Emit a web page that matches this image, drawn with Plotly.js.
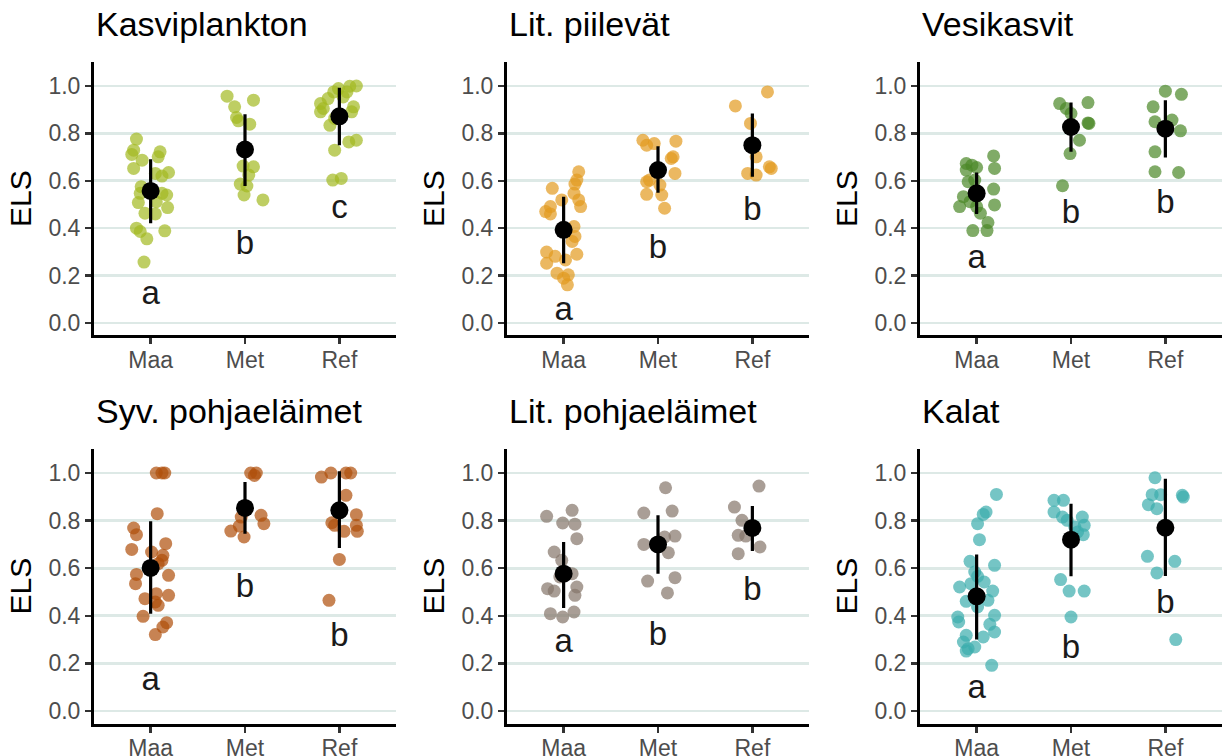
<!DOCTYPE html>
<html>
<head>
<meta charset="utf-8">
<script src="https://cdn.plot.ly/plotly-3.0.1.min.js"></script>
<style>
  html, body { margin: 0; padding: 0; background: #fff; }
  #chart { width: 1224px; height: 756px; }
</style>
</head>
<body>
<div id="chart"></div>
<script>
// Site groups on the x axis
const groups = ["Maa", "Met", "Ref"];
const yTicks = [0, 0.2, 0.4, 0.6, 0.8, 1.0];
const yTickText = ["0.0", "0.2", "0.4", "0.6", "0.8", "1.0"];

const panelTitles = ["Kasviplankton", "Lit. piilevät", "Vesikasvit",
                     "Syv. pohjaeläimet", "Lit. pohjaeläimet", "Kalat"];

// ---- Kasviplankton ----
const kasviMaa = [0.776, 0.729, 0.711, 0.722, 0.701, 0.687, 0.652, 0.635, 0.62, 0.631, 0.575, 0.547,
                  0.54, 0.547, 0.508, 0.512, 0.487, 0.463, 0.46, 0.40, 0.386, 0.355, 0.389, 0.257];
const kasviMaaJit = [-0.15, -0.18, -0.2, 0.1, 0.08, -0.09, -0.18, 0.19, 0.12, 0.05, -0.1, -0.11,
                     0.17, 0.12, -0.13, 0.06, 0.18, -0.06, 0.05, -0.15, -0.11, -0.04, 0.15, -0.07];
const kasviMet = [0.957, 0.94, 0.912, 0.867, 0.853, 0.839, 0.662, 0.659, 0.624, 0.586, 0.578, 0.54, 0.519];
const kasviMetJit = [-0.19, 0.09, -0.11, -0.09, -0.07, 0.05, -0.02, 0.09, 0.04, -0.05, 0.02, -0.01, 0.19];
const kasviRef = [0.999, 1.0, 0.989, 0.975, 0.975, 0.947, 0.954, 0.926, 0.905, 0.891, 0.912, 0.891,
                  0.834, 0.863, 0.764, 0.771, 0.729, 0.603, 0.61];
const kasviRefJit = [0.11, 0.18, -0.01, -0.06, 0.08, -0.12, 0.04, -0.2, -0.17, -0.2, 0.15, 0.13,
                     -0.1, -0.05, 0.1, 0.18, -0.05, -0.07, 0.02];
const kasviMean = [0.557, 0.732, 0.872];
const kasviLo = [0.421, 0.578, 0.75];
const kasviHi = [0.691, 0.881, 0.993];
const kasviLetters = ["a", "b", "c"];
const kasviLetterY = [0.114, 0.325, 0.479];

// ---- Lit. piilevät ----
const piileMaa = [0.568, 0.638, 0.603, 0.586, 0.547, 0.519, 0.491, 0.519, 0.491, 0.47, 0.46, 0.407,
                  0.365, 0.344, 0.299, 0.281, 0.29, 0.266, 0.252, 0.21, 0.189, 0.203, 0.161];
const piileMaaJit = [-0.12, 0.16, 0.14, 0.12, 0.11, 0.16, 0.18, -0.02, -0.14, -0.19, -0.14, 0.11,
                     0.12, 0.09, -0.18, -0.09, 0.14, 0.02, -0.18, -0.07, 0, 0.05, 0.04];
const piileMet = [0.771, 0.75, 0.757, 0.767, 0.701, 0.694, 0.631, 0.603, 0.596, 0.582, 0.54, 0.543, 0.484];
const piileMetJit = [-0.16, -0.12, -0.04, 0.19, 0.16, 0.14, 0.18, -0.09, -0.12, 0.02, 0.04, -0.12, 0.07];
const piileRef = [0.975, 0.916, 0.842, 0.701, 0.631, 0.624, 0.659, 0.652];
const piileRefJit = [0.16, -0.18, -0.02, 0.04, -0.05, 0.04, 0.18, 0.2];
const piileMean = [0.393, 0.645, 0.75];
const piileLo = [0.252, 0.55, 0.617];
const piileHi = [0.533, 0.746, 0.884];
const piileLetters = ["a", "b", "b"];
const piileLetterY = [0.048, 0.308, 0.47];

// ---- Vesikasvit ----
const vesiMaa = [0.673, 0.666, 0.656, 0.645, 0.705, 0.652, 0.596, 0.603, 0.565, 0.491, 0.533, 0.512,
                 0.491, 0.463, 0.498, 0.424, 0.39, 0.39];
const vesiMaaJit = [-0.11, -0.05, 0, -0.11, 0.18, 0.19, -0.09, -0.02, 0.18, -0.18, -0.14, -0.07,
                    0, 0.04, 0.19, 0.12, 0.11, -0.04];
const vesiMet = [0.926, 0.905, 0.884, 0.93, 0.844, 0.842, 0.771, 0.715, 0.579];
const vesiMetJit = [-0.12, -0.05, 0, 0.18, 0.18, 0.19, 0.09, -0.01, -0.09];
const vesiRef = [0.978, 0.965, 0.912, 0.849, 0.856, 0.811, 0.722, 0.638, 0.635];
const vesiRefJit = [0, 0.17, -0.13, -0.11, 0.07, 0.16, -0.11, -0.11, 0.14];
const vesiMean = [0.547, 0.827, 0.82];
const vesiLo = [0.46, 0.722, 0.698];
const vesiHi = [0.635, 0.93, 0.94];
const vesiLetters = ["a", "b", "b"];
const vesiLetterY = [0.266, 0.456, 0.498];

// ---- Syv. pohjaeläimet ----
const syvMaa = [1.0, 1.0, 1.0, 0.829, 0.769, 0.741, 0.679, 0.668, 0.703, 0.654, 0.633, 0.619,
                0.574, 0.535, 0.57, 0.493, 0.472, 0.486, 0.444, 0.458, 0.398, 0.371, 0.353, 0.321];
const syvMaaJit = [0.06, 0.15, 0.12, 0.07, -0.18, -0.15, -0.2, 0.01, 0.16, 0.13, 0.12, 0.08,
                   -0.15, -0.16, 0.19, 0.06, -0.06, 0.19, 0.08, 0.05, -0.08, 0.17, 0.13, 0.05];
const syvMet = [1.0, 1.0, 0.99, 0.815, 0.822, 0.787, 0.777, 0.756, 0.731];
const syvMetJit = [0.06, 0.12, 0.1, -0.04, 0.17, 0.2, -0.06, -0.15, -0.01];
const syvRef = [0.983, 1.0, 1.0, 1.0, 0.906, 0.825, 0.791, 0.78, 0.78, 0.755, 0.755, 0.637, 0.465];
const syvRefJit = [-0.19, -0.09, 0.07, 0.12, 0.07, 0.18, -0.08, -0.05, 0.18, 0.05, 0.19, 0, -0.11];
const syvMean = [0.601, 0.853, 0.843];
const syvLo = [0.409, 0.745, 0.685];
const syvHi = [0.797, 0.962, 1.007];
const syvLetters = ["a", "b", "b"];
const syvLetterY = [0.123, 0.515, 0.308];

// ---- Lit. pohjaeläimet ----
const litMaa = [0.818, 0.843, 0.79, 0.785, 0.724, 0.668, 0.633, 0.563, 0.577, 0.514, 0.504, 0.521,
                0.486, 0.409, 0.395, 0.416];
const litMaaJit = [-0.18, 0.09, -0.01, 0.12, 0.14, -0.1, -0.02, -0.04, 0.09, -0.17, -0.1, 0.14,
                   0.12, -0.14, -0.01, 0.11];
const litMet = [0.938, 0.832, 0.84, 0.731, 0.735, 0.7, 0.665, 0.546, 0.56, 0.496];
const litMetJit = [0.08, -0.15, 0.15, 0.07, 0.18, -0.15, 0.11, -0.11, 0.18, 0.1];
const litRef = [0.945, 0.857, 0.801, 0.738, 0.735, 0.689, 0.661];
const litRefJit = [0.07, -0.19, -0.11, -0.15, -0.07, 0.08, -0.15];
const litMean = [0.577, 0.70, 0.769];
const litLo = [0.433, 0.577, 0.672];
const litHi = [0.71, 0.822, 0.861];
const litLetters = ["a", "b", "b"];
const litLetterY = [0.284, 0.312, 0.501];

// ---- Kalat ----
const kalaMaa = [0.91, 0.836, 0.826, 0.787, 0.72, 0.629, 0.612, 0.584, 0.566, 0.542, 0.521, 0.535,
                 0.504, 0.465, 0.461, 0.437, 0.402, 0.395, 0.374, 0.364, 0.332, 0.318, 0.311, 0.29,
                 0.269, 0.262, 0.252, 0.192];
const kalaMaaJit = [0.21, 0.1, 0.07, 0.01, 0.03, -0.07, 0.19, -0.02, 0.01, 0.08, -0.18, -0.06,
                    0.17, 0.12, -0.11, 0.01, 0.19, -0.2, -0.19, 0.14, 0.19, -0.11, 0.07, -0.14,
                    -0.02, -0.09, -0.11, 0.16];
const kalaMet = [0.885, 0.885, 0.836, 0.815, 0.801, 0.815, 0.78, 0.752, 0.741, 0.773, 0.552, 0.504, 0.504, 0.395];
const kalaMetJit = [-0.18, -0.08, -0.18, -0.09, -0.04, 0.12, 0.14, 0.07, 0.13, 0.04, -0.11, -0.02, 0.14, 0];
const kalaRef = [0.98, 0.909, 0.909, 0.867, 0.85, 0.906, 0.899, 0.65, 0.629, 0.58, 0.3];
const kalaRefJit = [-0.11, -0.14, -0.05, -0.18, -0.09, 0.18, 0.19, -0.19, 0.1, -0.09, 0.11];
const kalaMean = [0.482, 0.72, 0.77];
const kalaLo = [0.30, 0.566, 0.567];
const kalaHi = [0.658, 0.871, 0.976];
const kalaLetters = ["a", "b", "b"];
const kalaLetterY = [0.088, 0.256, 0.448];

const panelColors = ["#A2B921", "#E39A1E", "#4A8726", "#AF4F0A", "#85756A", "#3AADAD"];

const panels = [
  { pts: [kasviMaa, kasviMet, kasviRef], jit: [kasviMaaJit, kasviMetJit, kasviRefJit],
    mean: kasviMean, lo: kasviLo, hi: kasviHi, letters: kasviLetters, letterY: kasviLetterY },
  { pts: [piileMaa, piileMet, piileRef], jit: [piileMaaJit, piileMetJit, piileRefJit],
    mean: piileMean, lo: piileLo, hi: piileHi, letters: piileLetters, letterY: piileLetterY },
  { pts: [vesiMaa, vesiMet, vesiRef], jit: [vesiMaaJit, vesiMetJit, vesiRefJit],
    mean: vesiMean, lo: vesiLo, hi: vesiHi, letters: vesiLetters, letterY: vesiLetterY },
  { pts: [syvMaa, syvMet, syvRef], jit: [syvMaaJit, syvMetJit, syvRefJit],
    mean: syvMean, lo: syvLo, hi: syvHi, letters: syvLetters, letterY: syvLetterY },
  { pts: [litMaa, litMet, litRef], jit: [litMaaJit, litMetJit, litRefJit],
    mean: litMean, lo: litLo, hi: litHi, letters: litLetters, letterY: litLetterY },
  { pts: [kalaMaa, kalaMet, kalaRef], jit: [kalaMaaJit, kalaMetJit, kalaRefJit],
    mean: kalaMean, lo: kalaLo, hi: kalaHi, letters: kalaLetters, letterY: kalaLetterY }
];

// Layout geometry (pixels) for the 3 x 2 grid
const W = 1224, H = 756;
const colLeft = [94, 507, 920];
const panelW = 302;
const rowTop = [61.7, 448.6];
const rowBottom = [335.4, 723.5];
const FONT = "Liberation Sans, Arial, Helvetica, sans-serif";

const data = [];
const layout = {
  width: W, height: H,
  margin: { l: 0, r: 0, t: 0, b: 0 },
  paper_bgcolor: "#fff", plot_bgcolor: "#fff",
  showlegend: false,
  font: { family: FONT, color: "#000" },
  annotations: []
};

panels.forEach((p, i) => {
  const n = i + 1;
  const xa = "x" + (n === 1 ? "" : n);
  const ya = "y" + (n === 1 ? "" : n);
  const col = i % 3, row = Math.floor(i / 3);

  // jittered observations
  p.pts.forEach((ys, g) => {
    data.push({
      type: "scatter", mode: "markers", xaxis: xa, yaxis: ya,
      x: ys.map((_, k) => g + p.jit[g][k]), y: ys,
      marker: { size: 13, color: panelColors[i], opacity: 0.7, line: { width: 0 } },
      hoverinfo: "y", cliponaxis: false
    });
  });

  // group means with interval bars
  data.push({
    type: "scatter", mode: "markers", xaxis: xa, yaxis: ya,
    x: [0, 1, 2], y: p.mean,
    marker: { size: 18, color: "#000" },
    error_y: {
      type: "data", symmetric: false,
      array: p.hi.map((h, k) => h - p.mean[k]),
      arrayminus: p.lo.map((l, k) => p.mean[k] - l),
      thickness: 3.2, width: 0, color: "#000"
    },
    hoverinfo: "y", cliponaxis: false
  });

  // significance letters
  data.push({
    type: "scatter", mode: "text", xaxis: xa, yaxis: ya,
    x: [0, 1, 2], y: p.letterY, text: p.letters,
    textposition: "middle center",
    textfont: { family: FONT, size: 33, color: "#1a1a1a" },
    hoverinfo: "skip", cliponaxis: false
  });

  const x0 = colLeft[col] / W, x1 = (colLeft[col] + panelW) / W;
  const y1 = 1 - rowTop[row] / H, y0 = 1 - rowBottom[row] / H;

  layout["xaxis" + (n === 1 ? "" : n)] = {
    domain: [x0, x1], anchor: ya,
    range: [-0.6, 2.6], tickvals: [0, 1, 2], ticktext: groups,
    showgrid: false, zeroline: false,
    showline: true, linecolor: "#000", linewidth: 3,
    ticks: "outside", ticklen: 6, tickwidth: 2.4, tickcolor: "#333",
    ticklabelstandoff: -4,
    tickfont: { family: FONT, size: 23, color: "#4d4d4d" },
    fixedrange: true
  };
  layout["yaxis" + (n === 1 ? "" : n)] = {
    domain: [y0, y1], anchor: xa,
    range: [-0.0525, 1.1025], tickvals: yTicks, ticktext: yTickText,
    showgrid: true, gridcolor: "#DDE9E6", gridwidth: 2.6, zeroline: false,
    showline: true, linecolor: "#000", linewidth: 3,
    ticks: "outside", ticklen: 6, tickwidth: 2.4, tickcolor: "#333",
    tickfont: { family: FONT, size: 23, color: "#4d4d4d" },
    title: { text: "ELS", font: { family: FONT, size: 30, color: "#000" }, standoff: 8 },
    fixedrange: true
  };

  layout.annotations.push({
    xref: "paper", yref: "paper",
    x: x0, y: 1 - (rowTop[row] - 17) / H,
    xanchor: "left", yanchor: "bottom",
    text: panelTitles[i], showarrow: false,
    font: { family: FONT, size: 34, color: "#000" }
  });
});

Plotly.newPlot("chart", data, layout, { staticPlot: true, displayModeBar: false });
</script>
</body>
</html>
